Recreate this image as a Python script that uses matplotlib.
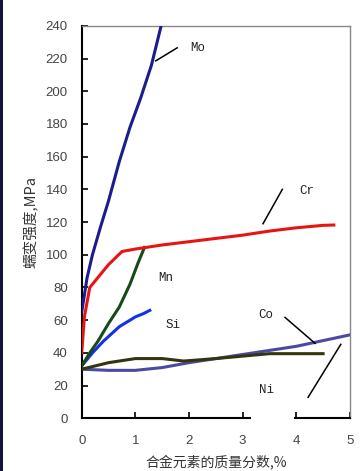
import matplotlib
matplotlib.use("Agg")
import matplotlib.pyplot as plt
from matplotlib.patches import Rectangle

plt.rcParams['font.family'] = ['Liberation Sans', 'Noto Sans CJK SC', 'DejaVu Sans']

mo_x = [0, 0.1, 0.2, 0.35, 0.5, 0.7, 0.9, 1.1, 1.3, 1.48]
mo_y = [65, 86, 100, 117, 133, 157, 178, 196, 216, 240]
cr_x = [0, 0.05, 0.15, 0.3, 0.5, 0.75, 1.0, 1.5, 2, 2.5, 3, 3.5, 4, 4.5, 4.7]
cr_y = [40, 62, 80, 86, 94, 102, 103.5, 106, 108, 110, 112, 114.5, 116.5, 118, 118.2]
mn_x = [0, 0.15, 0.3, 0.5, 0.7, 0.9, 1.05, 1.17]
mn_y = [32, 40, 47, 58, 68, 82, 95, 104.5]
si_x = [0, 0.2, 0.4, 0.7, 1.0, 1.15, 1.27]
si_y = [32, 40, 47, 56, 62, 64, 66]
co_x = [0, 0.5, 1, 1.5, 2, 2.5, 3, 3.5, 4, 4.5, 5]
co_y = [30, 29.3, 29.3, 31, 34, 36.5, 39, 41.5, 44, 47.5, 51]
ni_x = [0, 0.5, 1, 1.5, 1.9, 2.5, 3, 3.5, 4, 4.5]
ni_y = [30, 34, 36.5, 36.5, 35, 36.5, 38, 39.5, 39.5, 39.5]

x_ticks = [0, 1, 2, 3, 4, 5]
y_ticks = list(range(0, 241, 20))

fig = plt.figure(figsize=(3.6, 4.71), dpi=100)
ax = fig.add_axes([0.227, 0.112, 0.745, 0.833])

lw = 2.2
ax.plot(co_x, co_y, color='#4a4aa2', lw=lw, zorder=3)
ax.plot(ni_x, ni_y, color='#34340e', lw=lw, zorder=3)
ax.plot(si_x, si_y, color='#1232e6', lw=lw, zorder=3)
ax.plot(mn_x, mn_y, color='#184a18', lw=lw, zorder=3)
ax.plot(cr_x, cr_y, color='#e81414', lw=lw, zorder=3)
ax.plot(mo_x, mo_y, color='#1c1c8e', lw=lw, zorder=3)

ax.set_xlim(0, 5)
ax.set_ylim(0, 240)
ax.set_xticks(x_ticks)
ax.set_yticks(y_ticks)
ax.tick_params(direction='in', length=4, width=1.2, colors='black',
               labelcolor='#444444', labelsize=9.5)
ax.tick_params(axis='x', pad=12)
ax.tick_params(axis='y', pad=10)

for s in ['left', 'bottom']:
    ax.spines[s].set_linewidth(1.5)
    ax.spines[s].set_color('black')
for s in ['top', 'right']:
    ax.spines[s].set_linewidth(1.0)
    ax.spines[s].set_color('#888888')

# labels for curves
lab_kw = dict(family='Liberation Mono', fontsize=9, color='#222222')
ax.text(2.03, 226.5, 'Mo', ha='left', va='center', **lab_kw)
ax.text(4.05, 139, 'Cr', ha='left', va='center', **lab_kw)
ax.text(1.43, 86, 'Mn', ha='left', va='center', **lab_kw)
ax.text(1.56, 57, 'Si', ha='left', va='center', **lab_kw)
ax.text(3.3, 63, 'Co', ha='left', va='center', **lab_kw)
ax.text(3.3, 17, 'Ni', ha='left', va='center', **lab_kw)

# leader lines
lk = dict(color='black', lw=1.1, zorder=4)
ax.plot([1.38, 1.78], [218.6, 226.6], **lk)
ax.plot([3.38, 3.74], [119, 140], **lk)
ax.plot([3.79, 4.35], [61.7, 45.8], **lk)
ax.plot([4.22, 4.83], [12.8, 45.2], **lk)

# gap in the bottom axis line
ax.add_patch(Rectangle((3.15, -2.5), 0.8, 4.0, facecolor='white', edgecolor='none',
                       clip_on=False, zorder=10))

ax.set_ylabel('蠕变强度,MPa', family=['Noto Sans CJK SC', 'DejaVu Sans'],
              fontsize=10.5, color='#333333', labelpad=5)
fig.text((0.227 + 0.972) / 2, 2 / 471, '合金元素的质量分数,%',
         family=['Noto Sans CJK SC', 'DejaVu Sans'], fontsize=10,
         color='#333333', ha='center', va='bottom')

# dark strip on the left edge
fig.add_artist(Rectangle((0, 0), 3 / 360, 1, transform=fig.transFigure,
                         facecolor='#12123c', edgecolor='none'))

fig.savefig('out.png', dpi=100)
